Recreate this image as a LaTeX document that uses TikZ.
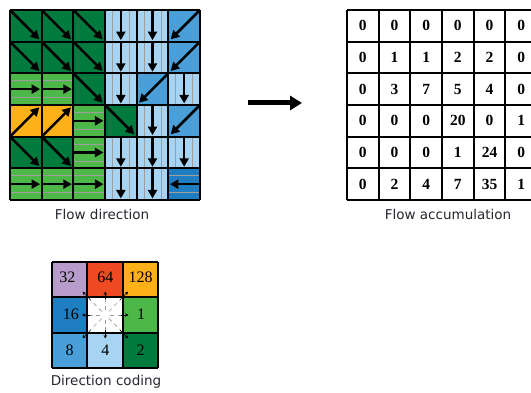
\documentclass[tikz,border=0pt]{standalone}
\usepackage{fontspec}
\newfontfamily\verd{DejaVu Sans}
\newfontfamily\tms{Liberation Serif}
\usetikzlibrary{arrows.meta,calc}
\definecolor{dkgreen}{HTML}{007A3D}
\definecolor{ltgreen}{HTML}{4DB848}
\definecolor{ltblue}{HTML}{A6D4F2}
\definecolor{midblue}{HTML}{4A9FD9}
\definecolor{dkblue}{HTML}{1F7EC2}
\definecolor{orng}{HTML}{FBB117}
\definecolor{lav}{HTML}{B89CCB}
\definecolor{redor}{HTML}{EF4B23}
\definecolor{lbltxt}{HTML}{262630}
\tikzset{
  farrow/.style={line width=2.5pt,-{Triangle[length=8.5pt,width=9pt]}},
  subline/.style={black!38,line width=0.6pt},
  gridline/.style={line width=1.9pt,black},
  lbl/.style={font=\verd\fontsize{13.5}{16}\selectfont,text=lbltxt,inner sep=0pt},
  accnum/.style={font=\tms\bfseries\fontsize{15.5}{17}\selectfont,inner sep=0pt},
  codenum/.style={font=\tms\fontsize{16}{18}\selectfont,inner sep=0pt},
  tick/.style={black!40,line width=0.7pt,dash pattern=on 4pt off 3.5pt},
  smallarr/.style={line width=0.6pt,-{Stealth[length=3.5pt,width=3.5pt]}},
  SE/.pic={\fill[dkgreen] (-15.83,-15.83) rectangle (15.83,15.83);
           \draw[farrow] (-15.5,-15.5) -- (13.5,13.5);},
  SW/.pic={\fill[midblue] (-15.83,-15.83) rectangle (15.83,15.83);
           \draw[farrow] (15.5,-15.5) -- (-13.5,13.5);},
  NE/.pic={\fill[orng] (-15.83,-15.83) rectangle (15.83,15.83);
           \draw[farrow] (-15.5,15.5) -- (13.5,-13.5);},
  S/.pic={\fill[ltblue] (-15.83,-15.83) rectangle (15.83,15.83);
          \draw[subline] (-8.5,-15.83) -- (-8.5,15.83) (8.5,-15.83) -- (8.5,15.83);
          \draw[farrow] (0,-15.83) -- (0,14.3);},
  E/.pic={\fill[ltgreen] (-15.83,-15.83) rectangle (15.83,15.83);
          \draw[subline] (-15.83,-8.5) -- (15.83,-8.5) (-15.83,8.5) -- (15.83,8.5);
          \draw[farrow] (-15.83,0) -- (14.3,0);},
  W/.pic={\fill[dkblue] (-15.83,-15.83) rectangle (15.83,15.83);
          \draw[subline] (-15.83,-8.5) -- (15.83,-8.5) (-15.83,8.5) -- (15.83,8.5);
          \draw[farrow] (15.83,0) -- (-14.3,0);},
}
\begin{document}
\begin{tikzpicture}[x=1pt,y=-1pt]
\useasboundingbox (0,0) rectangle (531,393);
% ---------- Flow direction ----------
\foreach \d [count=\i from 0] in {SE,SE,SE,S,S,SW,
                                  SE,SE,SE,S,S,SW,
                                  E,E,SE,S,SW,S,
                                  NE,NE,E,SE,S,SW,
                                  SE,SE,E,S,S,S,
                                  E,E,E,S,S,W}{
  \pgfmathtruncatemacro\cc{mod(\i,6)}
  \pgfmathtruncatemacro\rr{\i/6}
  \pic at ({10+31.667*\cc+15.83},{10+31.667*\rr+15.83}) {\d};
}
\foreach \k in {0,...,6}{
  \draw[gridline] ({10+31.667*\k},10) -- ({10+31.667*\k},200);
  \draw[gridline] (10,{10+31.667*\k}) -- (200,{10+31.667*\k});
}
\node[lbl] (lblfd) at (102,214) {Flow direction};
% ---------- Arrow ----------
\coordinate (arrs) at (248,103);
\coordinate (arre) at (302,103);
\draw[line width=5pt,-{Triangle[length=12pt,width=14pt]}] (arrs) -- (arre);
% ---------- Flow accumulation ----------
\fill[white] (347,10) rectangle (540,200);
\foreach \v [count=\i from 0] in {0,0,0,0,0,0,
                                  0,1,1,2,2,0,
                                  0,3,7,5,4,0,
                                  0,0,0,20,0,1,
                                  0,0,0,1,24,0,
                                  0,2,4,7,35,1}{
  \pgfmathtruncatemacro\cc{mod(\i,6)}
  \pgfmathtruncatemacro\rr{\i/6}
  \node[accnum] (acc-\i) at ({347+31.667*\cc+15.83},{10+31.667*\rr+15.83}) {\v};
}
\foreach \k in {0,...,6}{
  \draw[gridline] ({347+31.667*\k},10) -- ({347+31.667*\k},200);
  \draw[gridline] (347,{10+31.667*\k}) -- (540,{10+31.667*\k});
}
\node[lbl] (lblfa) at (448,214) {Flow accumulation};
% ---------- Direction coding ----------
\foreach \c/\col/\row in {lav/0/0,redor/1/0,orng/2/0,dkblue/0/1,white/1/1,ltgreen/2/1,midblue/0/2,ltblue/1/2,dkgreen/2/2}{
  \fill[\c] ({52+35.3*\col},{262+35.3*\row}) rectangle ++(35.3,35.3);
}
\coordinate (cc) at (105.3,314.95);
\foreach \ux/\uy/\len in {0/-1/16,0/1/16,-1/0/16,1/0/16,-0.7071/-0.7071/22,0.7071/-0.7071/22,-0.7071/0.7071/22,0.7071/0.7071/22}{
  \draw[tick] ($(cc)+({5*\ux},{5*\uy})$) -- ($(cc)+({\len*\ux},{\len*\uy})$);
}
\foreach \k in {0,...,3}{
  \draw[gridline] ({52+35.3*\k},262) -- ({52+35.3*\k},367.9);
  \draw[gridline] (52,{262+35.3*\k}) -- (157.9,{262+35.3*\k});
}
\foreach \dx/\dy/\tx/\ty in {0/-1/105.3/291.5, 0/1/105.3/338.5, -1/0/82/314.95, 1/0/128.6/314.95,
                             -1/-1/82.5/291.7, 1/-1/128.1/291.7, -1/1/82.5/338.2, 1/1/128.1/338.2}{
  \coordinate (tip) at (\tx,\ty);
  \draw[smallarr] ($(tip)+({-8*\dx},{-8*\dy})$) -- (tip);
}
\node[codenum] (c32) at (67.5,277) {32};
\node[codenum] (c64) at (105.3,277) {64};
\node[codenum] (c128) at (140.5,277) {128};
\node[codenum] (c16) at (71,314) {16};
\node[codenum] (c1) at (141,314) {1};
\node[codenum] (c8) at (69.5,350) {8};
\node[codenum] (c4) at (105.3,350) {4};
\node[codenum] (c2) at (140.5,350) {2};
\node[lbl] (lbldc) at (106,382) {Direction coding};
\end{tikzpicture}
\end{document}
